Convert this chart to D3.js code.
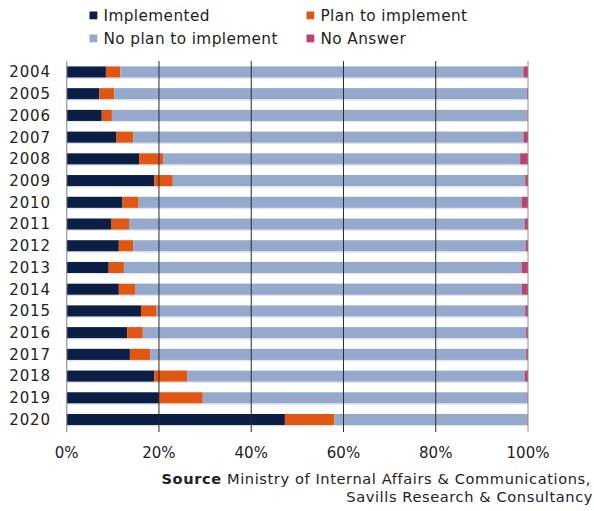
<!DOCTYPE html>
<html>
<head>
<meta charset="utf-8">
<script src="https://cdn.jsdelivr.net/npm/d3@7"></script>
<style>
  html, body { margin: 0; padding: 0; background: #fff; }
  svg { display: block; font-family: "DejaVu Sans", sans-serif; }
</style>
</head>
<body>
<svg id="chart" width="594" height="511"></svg>
<script>
// Survey years (one bar per year)
const years = ["2004","2005","2006","2007","2008","2009","2010","2011","2012",
               "2013","2014","2015","2016","2017","2018","2019","2020"];

// Share of respondents, % per year
const implemented   = [8.5, 7.1, 7.6, 10.8, 15.7, 19.0, 12.1, 9.6, 11.3, 9.1, 11.3, 16.1, 13.1, 13.7, 19.0, 20.1, 47.3];
const planToImpl    = [3.1, 3.2, 2.2, 3.6, 5.2, 4.0, 3.5, 3.9, 3.1, 3.3, 3.5, 3.4, 3.4, 4.4, 7.1, 9.4, 10.7];
const noPlan        = [87.4, 89.5, 90.1, 84.6, 77.4, 76.4, 83.0, 85.8, 85.1, 86.2, 83.9, 79.9, 83.1, 81.5, 73.2, 70.4, 41.9];
const noAnswer      = [1.0, 0.2, 0.1, 1.0, 1.7, 0.6, 1.4, 0.7, 0.5, 1.4, 1.3, 0.6, 0.4, 0.4, 0.7, 0.1, 0.1];

const seriesNames  = ["Implemented", "Plan to implement", "No plan to implement", "No Answer"];
const seriesColors = ["#0b1e45", "#e05613", "#94a9cc", "#b8446f"];
const xTicks = [0, 20, 40, 60, 80, 100];

const rows = years.map((y, i) => ({
  year: y,
  "Implemented": implemented[i],
  "Plan to implement": planToImpl[i],
  "No plan to implement": noPlan[i],
  "No Answer": noAnswer[i]
}));

const svg = d3.select("#chart");

const x = d3.scaleLinear().domain([0, 100]).range([66.7, 528]);
const y = d3.scaleBand().domain(years).range([61, 430.5]).paddingInner(0.49).paddingOuter(0.25);
const color = d3.scaleOrdinal().domain(seriesNames).range(seriesColors);

const stacked = d3.stack().keys(seriesNames)(rows);

// faint underline below each bar
svg.append("g").selectAll("line")
  .data(years)
  .join("line")
  .attr("x1", x(0)).attr("x2", x(100))
  .attr("y1", d => y(d) + y.bandwidth() + 0.8)
  .attr("y2", d => y(d) + y.bandwidth() + 0.8)
  .attr("stroke", "#dde0e6").attr("stroke-width", 1);

// stacked bars
svg.append("g").selectAll("g")
  .data(stacked)
  .join("g")
  .attr("fill", d => color(d.key))
  .selectAll("rect")
  .data(d => d)
  .join("rect")
  .attr("x", d => x(d[0]))
  .attr("width", d => Math.max(0, x(d[1]) - x(d[0])))
  .attr("y", d => y(d.data.year))
  .attr("height", y.bandwidth());

// vertical gridlines drawn over the bars
const gridTop = 61, gridBottom = 432;
svg.append("g").selectAll("line")
  .data(xTicks.filter(t => t > 0))
  .join("line")
  .attr("x1", d => x(d)).attr("x2", d => x(d))
  .attr("y1", gridTop).attr("y2", gridBottom)
  .attr("stroke", d => d === 100 ? "#8c8c8c" : "#2a2a2a")
  .attr("stroke-width", 1);

// category axis line
svg.append("line")
  .attr("x1", x(0)).attr("x2", x(0))
  .attr("y1", gridTop).attr("y2", gridBottom)
  .attr("stroke", "#8d95ad").attr("stroke-width", 1.2);

// year labels
svg.append("g").selectAll("text")
  .data(years)
  .join("text")
  .attr("x", 51)
  .attr("y", d => y(d) + y.bandwidth() / 2)
  .attr("dy", "0.36em")
  .attr("text-anchor", "end")
  .attr("font-size", 15)
  .attr("letter-spacing", "0.9")
  .attr("fill", "#222")
  .text(d => d);

// percentage labels
svg.append("g").selectAll("text")
  .data(xTicks)
  .join("text")
  .attr("x", d => x(d))
  .attr("y", 457.8)
  .attr("text-anchor", "middle")
  .attr("font-size", 15)
  .attr("fill", "#222")
  .text(d => d + "%");

// legend
const legendPos = [[89.5, 21], [306.5, 21], [89.5, 44], [306.5, 44]];
const legend = svg.append("g").selectAll("g")
  .data(seriesNames)
  .join("g")
  .attr("transform", (d, i) => `translate(${legendPos[i][0]},${legendPos[i][1]})`);
legend.append("rect")
  .attr("x", 0).attr("y", -9.5).attr("width", 7.8).attr("height", 7.8)
  .attr("fill", d => color(d));
legend.append("text")
  .attr("x", 14).attr("y", 0)
  .attr("font-size", 15.3)
  .attr("letter-spacing", "0.4")
  .attr("fill", "#222")
  .text(d => d);

// source note
const note = svg.append("g").attr("font-size", 14.6).attr("fill", "#222")
  .attr("text-anchor", "end").attr("letter-spacing", "0.6");
const line1 = note.append("text").attr("x", 591).attr("y", 484);
line1.append("tspan").attr("font-weight", "bold").text("Source");
line1.append("tspan").text(" Ministry of Internal Affairs & Communications,");
note.append("text").attr("x", 593).attr("y", 502).text("Savills Research & Consultancy");
</script>
</body>
</html>
